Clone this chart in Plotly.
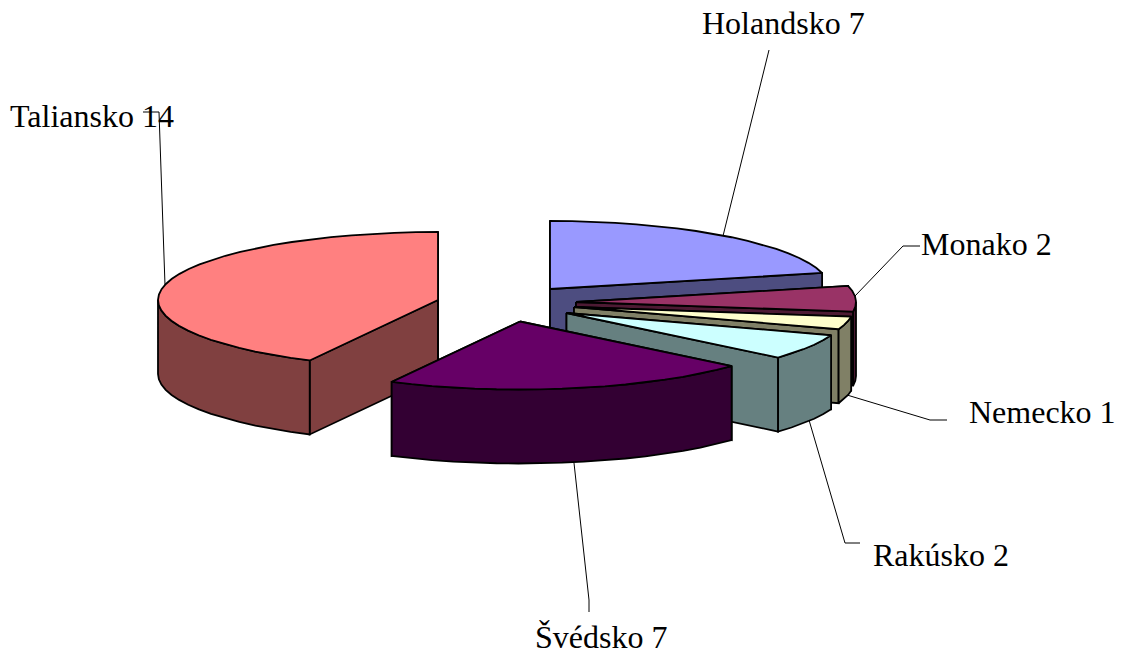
import math
import plotly.graph_objects as go

# --- data ---
countries = ["Holandsko", "Monako", "Nemecko", "Rakúsko", "Švédsko", "Taliansko"]
values = [7, 2, 1, 2, 7, 14]

# --- styling ---
top_colors = ["#9999FF", "#993366", "#FFFFCC", "#CCFFFF", "#660066", "#FF8080"]
side_colors = ["#4D4D80", "#4D1A33", "#808066", "#668080", "#330033", "#804040"]

# --- geometry of the projected, exploded pie (pixel canvas) ---
W, H = 1124, 655
RX, RY, DEPTH = 280, 68, 74
apexes = [(550, 289), (576, 302), (574, 307), (566.5, 313), (520, 321.5), (438, 300)]
draw_order = [5, 0, 1, 2, 3, 4]
ARC_STEP = 4.5

label_pos = [(700, 23), (919, 244), (967, 412), (871, 555), (533, 637), (8, 116)]
leaders = [
    [(723, 236), (769, 53), (769, 50)],
    [(855, 296), (903, 246), (920, 246)],
    [(847, 395), (930, 420), (947, 420)],
    [(809, 420), (845, 543), (860, 543)],
    [(574, 463), (589, 600), (589, 612)],
    [(165, 285), (159, 112), (143, 112)],
]


def rim(apex, deg):
    a = math.radians(deg)
    return apex[0] + RX * math.sin(a), apex[1] - RY * math.cos(a)


def arc(apex, a0, a1):
    n = max(1, math.ceil((a1 - a0) / ARC_STEP))
    return [rim(apex, a0 + (a1 - a0) * i / n) for i in range(n + 1)]


def down(points):
    return [(x, y + DEPTH) for x, y in points]


fig = go.Figure()


def poly(points, fill):
    pts = list(points) + [points[0]]
    fig.add_trace(go.Scatter(
        x=[p[0] for p in pts], y=[p[1] for p in pts],
        mode="lines", fill="toself", fillcolor=fill,
        line=dict(color="#000000", width=1.8),
        hoverinfo="skip", showlegend=False,
    ))


# leader lines sit behind the slices
for path in leaders:
    fig.add_trace(go.Scatter(
        x=[p[0] for p in path], y=[p[1] for p in path], mode="lines",
        line=dict(color="#000000", width=1),
        hoverinfo="skip", showlegend=False,
    ))

total = sum(values)
angles = [0]
for v in values:
    angles.append(angles[-1] + 360 * v / total)

for i in draw_order:
    a0, a1 = angles[i], angles[i + 1]
    apex = apexes[i]
    side, top = side_colors[i], top_colors[i]
    # cut faces
    for a in (a0, a1):
        edge = [apex, rim(apex, a)]
        poly(edge + down(edge)[::-1], side)
    # outer wall: only the part facing the viewer
    lo, hi = max(a0, 90), min(a1, 270)
    if hi > lo:
        upper = arc(apex, lo, hi)
        poly(upper + down(upper)[::-1], side)
    # top face
    poly([apex] + arc(apex, a0, a1), top)

for name, val, (x, y) in zip(countries, values, label_pos):
    fig.add_annotation(
        x=x, y=y, text=f"{name} {val}", showarrow=False,
        xanchor="left", yanchor="middle",
        font=dict(family="Liberation Serif", size=32, color="#000000"),
    )

fig.update_layout(
    width=W, height=H,
    margin=dict(l=0, r=0, t=0, b=0),
    paper_bgcolor="#FFFFFF", plot_bgcolor="#FFFFFF",
    xaxis=dict(range=[0, W], visible=False, fixedrange=True),
    yaxis=dict(range=[H, 0], visible=False, fixedrange=True),
    showlegend=False,
)
fig.write_html(
    "out.html",
    config={"displayModeBar": False},
    post_script="document.body.style.margin='0';document.documentElement.style.overflow='hidden';",
)
